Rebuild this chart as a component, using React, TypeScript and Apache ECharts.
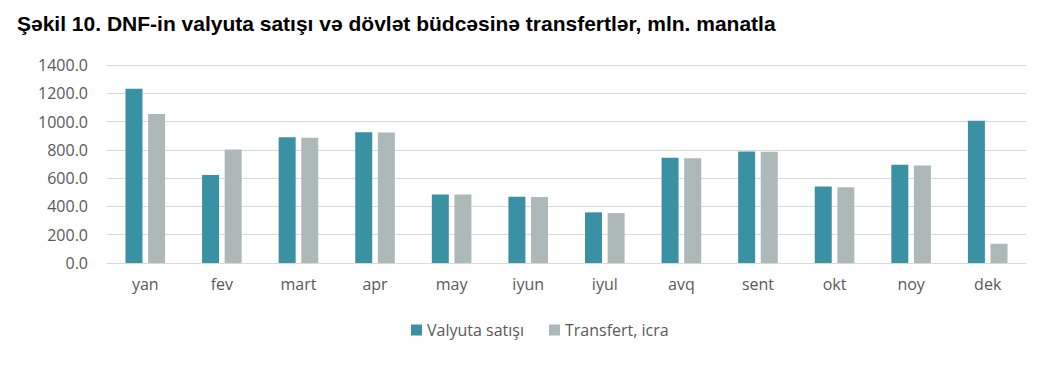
import React, { useEffect, useRef } from "react";
import * as echarts from "echarts";

const titleText = "Şəkil 10. DNF-in valyuta satışı və dövlət büdcəsinə transfertlər, mln. manatla";
const months = ["yan", "fev", "mart", "apr", "may", "iyun", "iyul", "avq", "sent", "okt", "noy", "dek"];
const valyutaSatisi = [1232, 623, 889, 924, 485, 469, 358, 744, 788, 541, 694, 1006];
const transfertIcra = [1054, 802, 885, 922, 485, 466, 353, 741, 786, 536, 689, 136];
const seriesNames = ["Valyuta satışı", "Transfert, icra"];
const colors = ["#3A91A4", "#ADB9B9"];

export default function App() {
  const ref = useRef<HTMLDivElement>(null);
  useEffect(() => {
    if (!ref.current) return;
    const chart = echarts.init(ref.current, undefined, { renderer: "svg" });
    const labelFont = "'Open Sans', 'Noto Sans', sans-serif";
    chart.setOption({
      animation: false,
      backgroundColor: "#ffffff",
      title: {
        text: titleText,
        left: 12,
        top: 8,
        textStyle: {
          fontFamily: "'Liberation Sans', Arial, sans-serif",
          fontWeight: "bold",
          fontSize: 21,
          color: "#000000",
        },
      },
      legend: {
        bottom: 25,
        left: 406,
        itemWidth: 11,
        itemHeight: 11,
        itemGap: 25,
        icon: "rect",
        data: seriesNames,
        textStyle: { fontFamily: labelFont, fontSize: 16, color: "#595959", padding: [0, 0, 0, 0] },
      },
      grid: { left: 107, right: 29, top: 65, bottom: 105 },
      xAxis: {
        type: "category",
        data: months,
        axisLine: { lineStyle: { color: "#D9D9D9", width: 1 } },
        axisTick: { show: false },
        axisLabel: { fontFamily: labelFont, fontSize: 16, color: "#595959", margin: 13 },
      },
      yAxis: {
        type: "value",
        min: 0,
        max: 1400,
        interval: 200,
        axisLine: { show: false },
        axisTick: { show: false },
        splitLine: { lineStyle: { color: "#D9D9D9", width: 1 } },
        axisLabel: {
          fontFamily: labelFont,
          fontSize: 16,
          color: "#595959",
          margin: 19,
          formatter: (v: number) => v.toFixed(1),
        },
      },
      series: [
        {
          name: seriesNames[0],
          type: "bar",
          data: valyutaSatisi,
          barWidth: 17,
          barGap: "33%",
          itemStyle: { color: colors[0] },
        },
        {
          name: seriesNames[1],
          type: "bar",
          data: transfertIcra,
          barWidth: 17,
          barGap: "33%",
          itemStyle: { color: colors[1] },
        },
      ],
    });
    return () => chart.dispose();
  }, []);
  return (
    <div
      ref={ref}
      style={{ position: "fixed", left: 0, top: 0, width: 1055, height: 368 }}
    />
  );
}
